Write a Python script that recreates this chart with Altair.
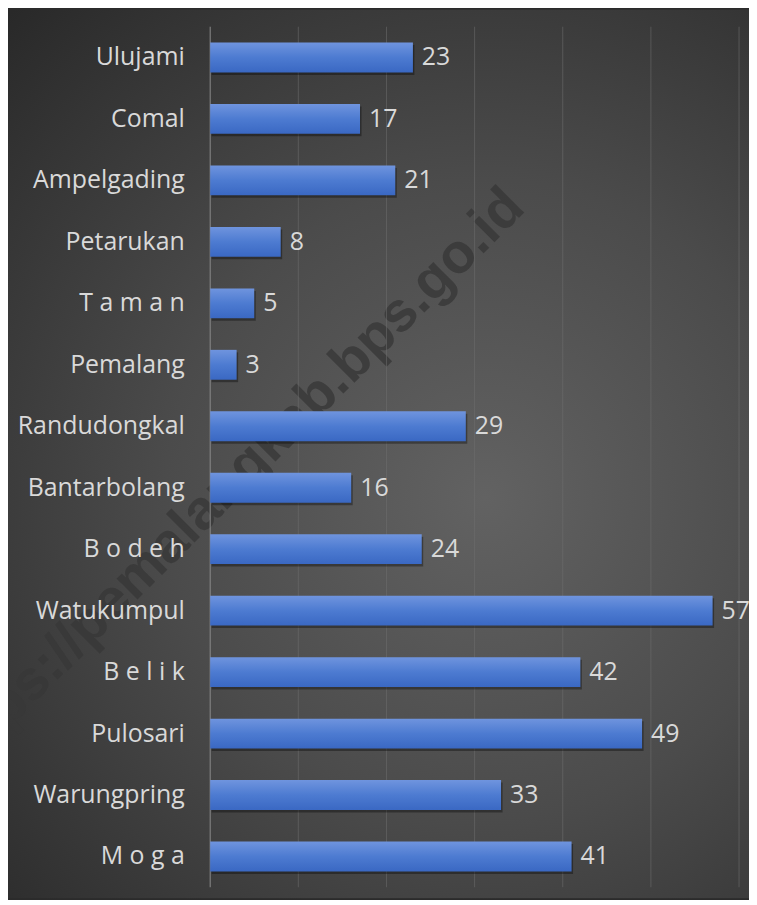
import altair as alt
import pandas as pd

categories = ["Ulujami", "Comal", "Ampelgading", "Petarukan", "T a m a n", "Pemalang",
              "Randudongkal", "Bantarbolang", "B o d e h", "Watukumpul", "B e l i k",
              "Pulosari", "Warungpring", "M o g a"]
values = [23, 17, 21, 8, 5, 3, 29, 16, 24, 57, 42, 49, 33, 41]
ticks = [0, 10, 20, 30, 40, 50, 60]
watermark = "https://pemalangkab.bps.go.id"

W, H = 531, 864
PL, PT, PR, PB = 203, 17, 10, 11

df = pd.DataFrame({"kec": categories, "n": values})
tdf = pd.DataFrame({"t": ticks})
one = pd.DataFrame({"a": [0]})

xscale = alt.Scale(domain=[0, 60], nice=False, zero=True)
yenc = alt.Y("kec:N", sort=categories,
             scale=alt.Scale(paddingInner=0.514, paddingOuter=0.257),
             axis=alt.Axis(title=None, ticks=False, domain=False, grid=False, zindex=1,
                           labelFont="Open Sans", labelFontSize=25,
                           labelColor="#d9d9d9", labelPadding=26, labelLimit=300))

bg = alt.Chart(one).mark_rect(
    fill=alt.RadialGradient(
        gradient="radial",
        stops=[alt.GradientStop(offset=0, color="#626262"),
               alt.GradientStop(offset=0.45, color="#4b4b4b"),
               alt.GradientStop(offset=1, color="#262626")],
        x1=0.62, y1=0.55, r1=0, x2=0.62, y2=0.55, r2=0.8),
).encode(x=alt.value(-PL), x2=alt.value(W + PR), y=alt.value(-PT), y2=alt.value(H + PB))

wm = alt.Chart(one).mark_text(
    text=watermark, angle=315, font="Liberation Sans", fontWeight="bold",
    fontSize=56, color="#383838", opacity=0.8, align="right", baseline="middle"
).encode(x=alt.value(306), y=alt.value(172))

grid = alt.Chart(tdf).mark_rule(strokeWidth=1).encode(
    x=alt.X("t:Q", scale=xscale, axis=None),
    y=alt.value(0), y2=alt.value(H),
    color=alt.condition(alt.datum.t == 0, alt.value("#8c8c8c"), alt.value("#6e6e6e")),
    opacity=alt.condition(alt.datum.t == 0, alt.value(1.0), alt.value(0.55)),
)

shadow = alt.Chart(df).mark_bar(color="#000000", opacity=0.35, yOffset=2.5, xOffset=1.5).encode(
    x=alt.X("n:Q", scale=xscale, axis=None), y=yenc)

bars = alt.Chart(df).mark_bar(
    fill=alt.LinearGradient(
        gradient="linear",
        stops=[alt.GradientStop(offset=0, color="#6f94de"),
               alt.GradientStop(offset=0.5, color="#4d7bd1"),
               alt.GradientStop(offset=1, color="#3a68c3")],
        x1=0, x2=0, y1=0, y2=1),
).encode(x=alt.X("n:Q", scale=xscale, axis=None), y=yenc)

labels = alt.Chart(df).mark_text(
    align="left", baseline="middle", dx=9, font="Open Sans", fontSize=25, color="#d9d9d9"
).encode(x=alt.X("n:Q", scale=xscale, axis=None), y=yenc, text="n:Q")

chart = alt.layer(bg, wm, grid, shadow, bars, labels).properties(
    width=W, height=H,
    padding={"left": PL, "top": PT, "right": PR, "bottom": PB},
    autosize=alt.AutoSizeParams(type="none"),
    background="#2b2b2b",
).configure_view(stroke=None)

chart.save("out.html", embed_options={"renderer": "svg", "actions": False})
